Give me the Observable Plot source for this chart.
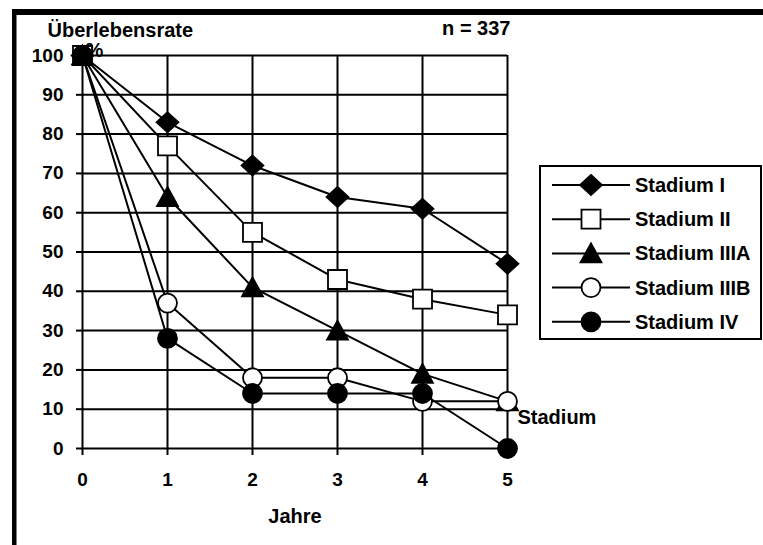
<!DOCTYPE html>
<html>
<head>
<meta charset="utf-8">
<script src="https://cdn.jsdelivr.net/npm/d3@7"></script>
<script src="https://cdn.jsdelivr.net/npm/@observablehq/plot@0.6"></script>
<style>
  html, body { margin: 0; padding: 0; background: #fff; }
  #chart svg { display: block; }
</style>
</head>
<body>
<div id="chart"></div>
<script>
// Survival rate (%) by tumour stage over five years
const years = [0, 1, 2, 3, 4, 5];
const stadiumI    = [100, 83, 72, 64, 61, 47];
const stadiumII   = [100, 77, 55, 43, 38, 34];
const stadiumIIIA = [100, 64, 41, 30, 19, 12];
const stadiumIIIB = [100, 37, 18, 18, 12, 12];
const stadiumIV   = [100, 28, 14, 14, 14, 0];
const seriesNames = ["Stadium I", "Stadium II", "Stadium IIIA", "Stadium IIIB", "Stadium IV"];
const yTicks = [0, 10, 20, 30, 40, 50, 60, 70, 80, 90, 100];
const xTicks = [0, 1, 2, 3, 4, 5];

const FONT = "'Liberation Sans', Arial, sans-serif";
const FS = 19;   // tick labels
const FT = 20;   // titles, notes and legend

// Marker shapes; each scales with the dot radius
const radiusOf = (size) => Math.sqrt(size / Math.PI);
const symDiamond = {draw(ctx, size) {
  const r = radiusOf(size), w = r * 1.15, h = r * 1.05;
  ctx.moveTo(0, -h); ctx.lineTo(w, 0); ctx.lineTo(0, h); ctx.lineTo(-w, 0); ctx.closePath();
}};
const symSquare = {draw(ctx, size) {
  const s = radiusOf(size);
  ctx.moveTo(-s, -s); ctx.lineTo(s, -s); ctx.lineTo(s, s); ctx.lineTo(-s, s); ctx.closePath();
}};
const symTriangle = {draw(ctx, size) {
  const r = radiusOf(size);
  ctx.moveTo(0, -r * 1.05); ctx.lineTo(r * 1.1, r * 0.95); ctx.lineTo(-r * 1.1, r * 0.95); ctx.closePath();
}};
const symCircle = {draw(ctx, size) {
  const r = radiusOf(size);
  ctx.moveTo(r, 0); ctx.arc(0, 0, r, 0, 2 * Math.PI);
}};

const seriesValues = [stadiumI, stadiumII, stadiumIIIA, stadiumIIIB, stadiumIV];
const seriesStyle = [
  {symbol: symDiamond,  fill: "black"},
  {symbol: symSquare,   fill: "white"},
  {symbol: symTriangle, fill: "black"},
  {symbol: symCircle,   fill: "white"},
  {symbol: symCircle,   fill: "black"}
];

const rows = [];
seriesNames.forEach((name, i) => {
  years.forEach((yr, j) => rows.push({series: name, year: yr, value: seriesValues[i][j]}));
});

const seriesMarks = seriesNames.flatMap((name, i) => {
  const data = rows.filter(d => d.series === name);
  return [
    Plot.line(data, {x: "year", y: "value", stroke: "black", strokeWidth: 2}),
    Plot.dot(data, {x: "year", y: "value", r: 9.5, symbol: seriesStyle[i].symbol,
      fill: seriesStyle[i].fill, stroke: "black", strokeWidth: 1.8})
  ];
});

const W = 763, H = 545;
const chart = Plot.plot({
  width: W,
  height: H,
  marginLeft: 82,
  marginRight: W - 507,
  marginTop: 55,
  marginBottom: H - 448,
  style: {fontFamily: FONT, fontSize: FS + "px", fontWeight: "bold", color: "black", background: "white", overflow: "visible"},
  x: {domain: [0, 5], ticks: xTicks},
  y: {domain: [0, 100], ticks: yTicks},
  marks: [
    Plot.gridY(yTicks, {x1: 0, x2: 5, stroke: "black", strokeOpacity: 1, strokeWidth: 2}),
    Plot.gridX(xTicks, {y1: 0, y2: 100, stroke: "black", strokeOpacity: 1, strokeWidth: 2}),
    Plot.axisY(yTicks, {tickSize: 6, tickPadding: 13, strokeWidth: 2, fontSize: FS, fontWeight: "bold", label: null}),
    Plot.axisX(xTicks, {tickSize: 7, tickPadding: 17, strokeWidth: 2, fontSize: FS, fontWeight: "bold", label: null}),
    Plot.text(["%"], {x: 0, y: 100, text: d => d, textAnchor: "start", dx: 3, dy: -5, fontSize: FT, fontWeight: "bold"}),
    ...seriesMarks,
    Plot.text(["n = 337"], {x: 5, y: 100, text: d => d, textAnchor: "end", dx: 3, dy: -27, fontSize: FT, fontWeight: "bold"}),
    Plot.text(["Stadium"], {x: 5, y: 12, text: d => d, textAnchor: "start", dx: 10, dy: 16, fontSize: FT, fontWeight: "bold"}),
    Plot.text(["Jahre"], {x: 2.5, y: 0, text: d => d, textAnchor: "middle", dy: 68, fontSize: FT, fontWeight: "bold"}),
    Plot.text(["Überlebensrate"], {x: 0, y: 100, text: d => d, textAnchor: "start", dx: -35, dy: -25, fontSize: FT, fontWeight: "bold"})
  ]
});

document.getElementById("chart").appendChild(chart);

// Outer frame (top and left bars) and the legend box
const svg = d3.select(chart);
svg.insert("rect", ":first-child").attr("x", 12).attr("y", 9).attr("width", W - 12).attr("height", 6).attr("fill", "black");
svg.insert("rect", ":first-child").attr("x", 12).attr("y", 9).attr("width", 4.5).attr("height", H - 9).attr("fill", "black");

const legend = svg.append("g")
  .attr("font-family", FONT).attr("font-weight", "bold").attr("font-size", FT)
  .attr("text-anchor", "start");
legend.append("rect").attr("x", 540).attr("y", 166).attr("width", 221).attr("height", 173)
  .attr("fill", "white").attr("stroke", "black").attr("stroke-width", 2);
const symbolPath = d3.symbol().size(Math.PI * 9.5 * 9.5);
seriesNames.forEach((name, i) => {
  const cy = 185 + i * 34.2;
  const g = legend.append("g");
  g.append("line").attr("x1", 552).attr("x2", 630).attr("y1", cy).attr("y2", cy)
    .attr("stroke", "black").attr("stroke-width", 2);
  g.append("path").attr("transform", `translate(591,${cy})`)
    .attr("d", symbolPath.type(seriesStyle[i].symbol)())
    .attr("fill", seriesStyle[i].fill).attr("stroke", "black").attr("stroke-width", 1.8);
  g.append("text").attr("x", 635).attr("y", cy + 7).attr("text-anchor", "start").text(name);
});
</script>
</body>
</html>
